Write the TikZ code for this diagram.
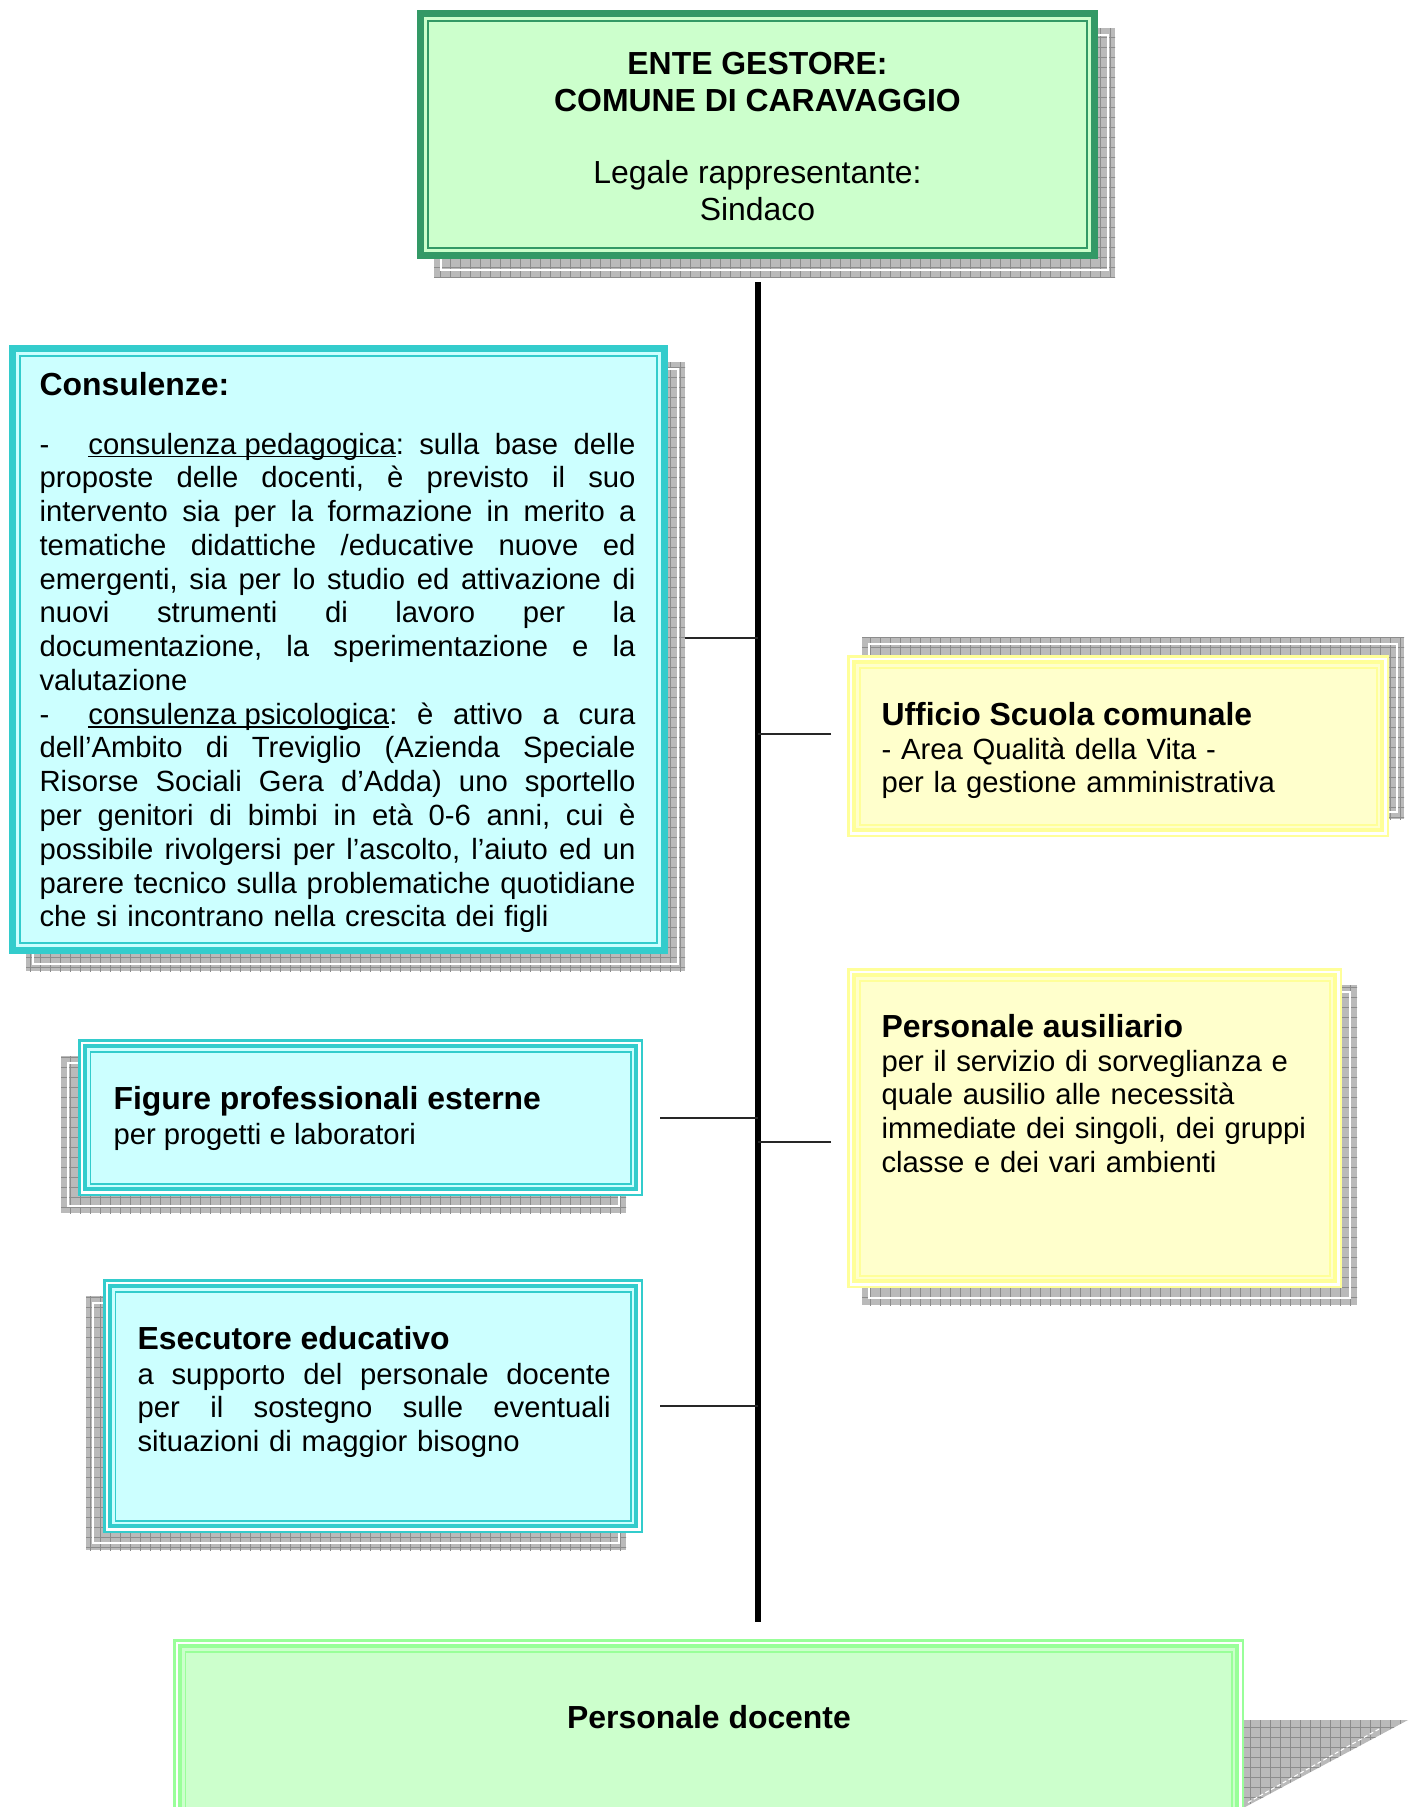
\documentclass[tikz,border=0pt]{standalone}
\usepackage{fontspec}
\setmainfont{Liberation Sans}
\frenchspacing
\usetikzlibrary{fit,backgrounds,patterns.meta}
\definecolor{dkgreen}{HTML}{339966}
\definecolor{ltgreen}{HTML}{CCFFCC}
\definecolor{tealb}{HTML}{33CCCC}
\definecolor{ltcyan}{HTML}{CCFFFF}
\definecolor{yelb}{HTML}{FFFF99}
\definecolor{ltyel}{HTML}{FFFFCC}
\definecolor{pgreen}{HTML}{99FF99}

\newcommand\myul[1]{\setbox0\hbox{#1}\rlap{\rule[-1.3pt]{\wd0}{0.55pt}}\box0}
\newcommand\jline[1]{\leavevmode\hbox to\linewidth{\spaceskip=0.278em plus 1fil\relax\xspaceskip=\spaceskip #1}}

\tikzset{
 boxbase/.style={inner sep=0pt, outer sep=0pt, rectangle},
 hd/.style={inner sep=0pt, font=\fontsize{12}{13.8}\selectfont\bfseries},
 hdr/.style={inner sep=0pt, font=\fontsize{12}{13.8}\selectfont},
 bd/.style={inner sep=0pt, font=\fontsize{11}{12.7}\selectfont},
 conn/.style={line width=0.75pt, black!85},
 trunk/.style={line width=2.26pt, black},
 shadowbox/.style={fill=black!27, postaction={pattern={Hatch[distance=3.76pt,angle=0,line width=0.35pt]}, pattern color=black!45}},
 shadowline/.style={white, line width=0.4pt},
}

\newcommand\frameTT[2]{%
 \draw[#2, line width=2.63pt] ([shift={(3.5,3.5)}]#1.north west) rectangle ([shift={(-3.5,-3.5)}]#1.south east);
 \draw[#2, line width=0.75pt] ([shift={(11,11)}]#1.north west) rectangle ([shift={(-11,-11)}]#1.south east);}
\newcommand\frameTTT[3]{%
 \fill[#3] ([shift={(9,9)}]#1.north west) rectangle ([shift={(-9,-9)}]#1.south east);
 \draw[#2, line width=0.94pt] ([shift={(1.25,1.25)}]#1.north west) rectangle ([shift={(-1.25,-1.25)}]#1.south east);
 \draw[#2, line width=1.7pt] ([shift={(7,7)}]#1.north west) rectangle ([shift={(-7,-7)}]#1.south east);
 \draw[#2, line width=0.75pt] ([shift={(12.5,12.5)}]#1.north west) rectangle ([shift={(-12.5,-12.5)}]#1.south east);}
\newcommand\shadowof[3]{%
 \fill[shadowbox] ([shift={(#2,#3)}]#1.north west) rectangle ([shift={(#2,#3)}]#1.south east);
 \draw[shadowline] ([shift={(#2+7,#3+7)}]#1.north west) rectangle ([shift={(#2-7,#3-7)}]#1.south east);}

\begin{document}
\begin{tikzpicture}[x=0.376pt, y=-0.376pt]
\useasboundingbox (0,0) rectangle (1415,1807);
\begin{pgfonlayer}{background}
\fill[white] (0,0) rectangle (1415,1807);
\end{pgfonlayer}

% ---------- boxes ----------
\node[boxbase, fill=ltgreen, fit={(417,10)(1098,259)}] (ente) {};
\frameTT{ente}{dkgreen}

\node[boxbase, fill=ltcyan, fit={(9,345)(668,954)}] (cons) {};
\frameTT{cons}{tealb}

\node[boxbase, fill=white, fit={(847,655)(1389,837)}] (uff) {};
\frameTTT{uff}{yelb}{ltyel}

\node[boxbase, fill=white, fit={(847,968)(1342,1288)}] (aus) {};
\frameTTT{aus}{yelb}{ltyel}

\node[boxbase, fill=white, fit={(78,1039)(643,1196)}] (fig) {};
\frameTTT{fig}{tealb}{ltcyan}

\node[boxbase, fill=white, fit={(103,1279)(643,1533)}] (ese) {};
\frameTTT{ese}{tealb}{ltcyan}

\node[boxbase, fill=white, fit={(173,1639)(1244,1850)}] (doc) {};
\frameTTT{doc}{pgreen}{ltgreen}

% ---------- shadows ----------
\begin{pgfonlayer}{background}
\shadowof{ente}{17}{18}
\shadowof{cons}{17}{17}
\shadowof{uff}{15}{-18}
\shadowof{aus}{15}{17}
\shadowof{fig}{-17}{17}
\shadowof{ese}{-17}{17}
\fill[shadowbox] ([shift={(-6,81)}]doc.north east) -- ([shift={(164,81)}]doc.north east) -- ([shift={(-42,191)}]doc.north east) -- ([shift={(-6,191)}]doc.north east) -- cycle;
\draw[white, line width=0.4pt, dash pattern=on 1.5pt off 1pt] ([shift={(135,90)}]doc.north east) -- ([shift={(3,164)}]doc.north east);
\end{pgfonlayer}

% ---------- texts ----------
\node[hd, anchor=base] (t1) at (757.5,74) {ENTE GESTORE:};
\node[hd, anchor=base] (t2) at (757.5,111) {COMUNE DI CARAVAGGIO};
\node[hdr, anchor=base] (t3) at (757.5,183) {Legale rappresentante:};
\node[hdr, anchor=base] (t4) at (757.5,220) {Sindaco};

\node[hd, anchor=base west] (consh) at (39,395) {Consulenze:};
\node[bd, anchor=base west, text width=224.1pt, align=left] (consb) at (39,454) {%
\jline{\makebox[18.4pt][l]{-}\myul{consulenza pedagogica}: sulla base delle}\\
\jline{proposte delle docenti, è previsto il suo}\\
\jline{intervento sia per la formazione in merito a}\\
\jline{tematiche didattiche /educative nuove ed}\\
\jline{emergenti, sia per lo studio ed attivazione di}\\
\jline{nuovi strumenti di lavoro per la}\\
\jline{documentazione, la sperimentazione e la}\\
valutazione\\
\jline{\makebox[18.4pt][l]{-}\myul{consulenza psicologica}: è attivo a cura}\\
\jline{dell’Ambito di Treviglio (Azienda Speciale}\\
\jline{Risorse Sociali Gera d’Adda) uno sportello}\\
\jline{per genitori di bimbi in età 0-6 anni, cui è}\\
\jline{possibile rivolgersi per l’ascolto, l’aiuto ed un}\\
\jline{parere tecnico sulla problematiche quotidiane}\\
che si incontrano nella crescita dei figli};

\node[hd, anchor=base west] (uffh) at (881,725) {Ufficio Scuola comunale};
\node[bd, anchor=base west, text width=180pt, align=left] (uffb) at (881,759) {- Area Qualità della Vita -\\per la gestione amministrativa};

\node[hd, anchor=base west] (aush) at (881,1037) {Personale ausiliario};
\node[bd, anchor=base west, text width=170pt, align=left] (ausb) at (881,1071) {per il servizio di sorveglianza e\\quale ausilio alle necessità\\immediate dei singoli, dei gruppi\\classe e dei vari ambienti};

\node[hd, anchor=base west] (figh) at (113,1109) {Figure professionali esterne};
\node[bd, anchor=base west] (figb) at (113,1144) {per progetti e laboratori};

\node[hd, anchor=base west] (eseh) at (137,1349) {Esecutore educativo};
\node[bd, anchor=base west, text width=177.9pt, align=left] (eseb) at (137,1384) {%
\jline{a supporto del personale docente}\\
\jline{per il sostegno sulle eventuali}\\
situazioni di maggior bisogno};

\node[hd, anchor=base] (doch) at (709,1728) {Personale docente};

% ---------- connectors ----------
\coordinate (ttop) at ([shift={(0.5,23)}]ente.south);
\coordinate (tbot0) at (ttop |- doc.north);
\coordinate (tbot) at ([shift={(0,-17)}]tbot0);
\draw[trunk] (ttop) -- (tbot);
\coordinate (c1) at ([shift={(17,0)}]cons.east |- 0,638);
\coordinate (c2) at ([shift={(-16,0)}]uff.west |- 0,734);
\coordinate (c3) at ([shift={(17,0)}]fig.east |- 0,1118);
\coordinate (c4) at ([shift={(-16,0)}]aus.west |- 0,1142);
\coordinate (c5) at ([shift={(17,0)}]ese.east |- 0,1406);
\foreach \c in {c1,c2,c3,c4,c5} \draw[conn] (\c) -- (\c -| ttop);
\end{tikzpicture}
\end{document}
